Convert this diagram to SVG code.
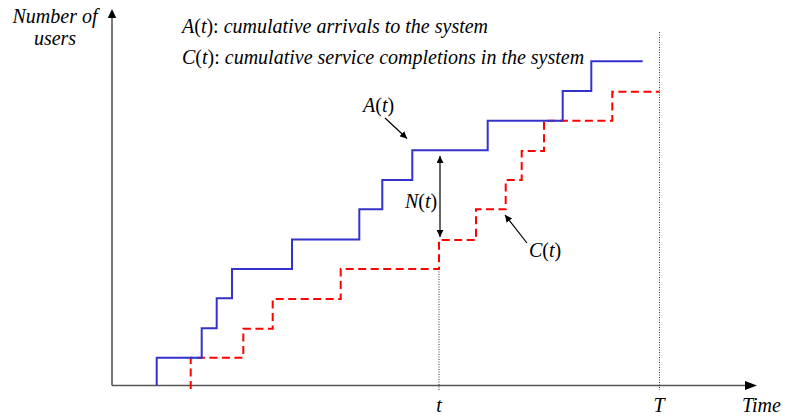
<svg xmlns="http://www.w3.org/2000/svg" width="785" height="417" viewBox="0 0 785 417">
<defs>
<style>
text{font-family:"Liberation Serif","Times New Roman",serif;font-size:20px;fill:#000}
.it{font-style:italic}
.axis{stroke:#555;stroke-width:1.6;fill:none}
.dot{stroke:#333;stroke-width:1;stroke-dasharray:1 1.5;fill:none}
.blue{stroke:#3333cc;stroke-width:2;fill:none}
.red{stroke:#ff0000;stroke-width:2;fill:none;stroke-dasharray:8 4.5}
.ptr{stroke:#000;stroke-width:1.2;fill:none}
</style>
<marker id="ah" viewBox="0 0 10 10" refX="10" refY="5" markerWidth="7" markerHeight="7" markerUnits="userSpaceOnUse" orient="auto-start-reverse">
<path d="M0,0 L10,5 L0,10 z" fill="#000"/>
</marker>
</defs>
<rect width="785" height="417" fill="#fff"/>
<g id="axes">
<line class="axis" x1="112" y1="385.5" x2="112" y2="16"/>
<path d="M112,9 L107.8,18 L116.2,18 z" fill="#000"/>
<line class="axis" x1="112" y1="385.5" x2="747" y2="385.5"/>
<path d="M757,385.5 L745,381 L745,390 z" fill="#000"/>
<line class="dot" x1="439" y1="269" x2="439" y2="390"/>
<line class="dot" x1="659.5" y1="32" x2="659.5" y2="390"/>
</g>
<g id="curve-C">
<path class="red" d="M190.7,389 V357.7 H243.3 V328.7 H272.7 V299 H340.7 V269 H439 V240 H476 V209.3 H505.7 V180 H521.7 V151 H544 V120.7 H612.3 V91.7 H659.5"/>
</g>
<g id="curve-A">
<path class="blue" d="M156.7,385.5 V357.7 H201.7 V328.3 H216.7 V298.3 H232 V269 H292 V239.5 H359.3 V209.3 H382.3 V180 H412.3 V150.3 H487.7 V120.7 H562.7 V91 H591.3 V61.3 H642.7"/>
</g>
<g id="connectors">
<line class="ptr" x1="385" y1="118" x2="407" y2="138.5" marker-end="url(#ah)"/>
<line class="ptr" x1="440" y1="156" x2="440" y2="237" marker-start="url(#ah)" marker-end="url(#ah)"/>
<line class="ptr" x1="527" y1="243" x2="505" y2="215" marker-end="url(#ah)"/>
</g>
<g id="labels">
<text class="it" x="55" y="23" text-anchor="middle" font-size="19.5">Number of</text>
<text class="it" x="55" y="45" text-anchor="middle" font-size="19.5">users</text>
<text x="182" y="32.5"><tspan class="it">A</tspan>(<tspan class="it">t</tspan>): <tspan class="it">cumulative arrivals to the system</tspan></text>
<text x="182" y="64"><tspan class="it">C</tspan>(<tspan class="it">t</tspan>): <tspan class="it">cumulative service completions in the system</tspan></text>
<text x="363" y="111.5"><tspan class="it">A</tspan>(<tspan class="it">t</tspan>)</text>
<text x="405" y="208"><tspan class="it">N</tspan>(<tspan class="it">t</tspan>)</text>
<text x="529" y="257"><tspan class="it">C</tspan>(<tspan class="it">t</tspan>)</text>
<text class="it" x="439" y="411.5" text-anchor="middle">t</text>
<text class="it" x="659" y="411.5" text-anchor="middle">T</text>
<text class="it" x="742" y="411.5">Time</text>
</g>
</svg>
